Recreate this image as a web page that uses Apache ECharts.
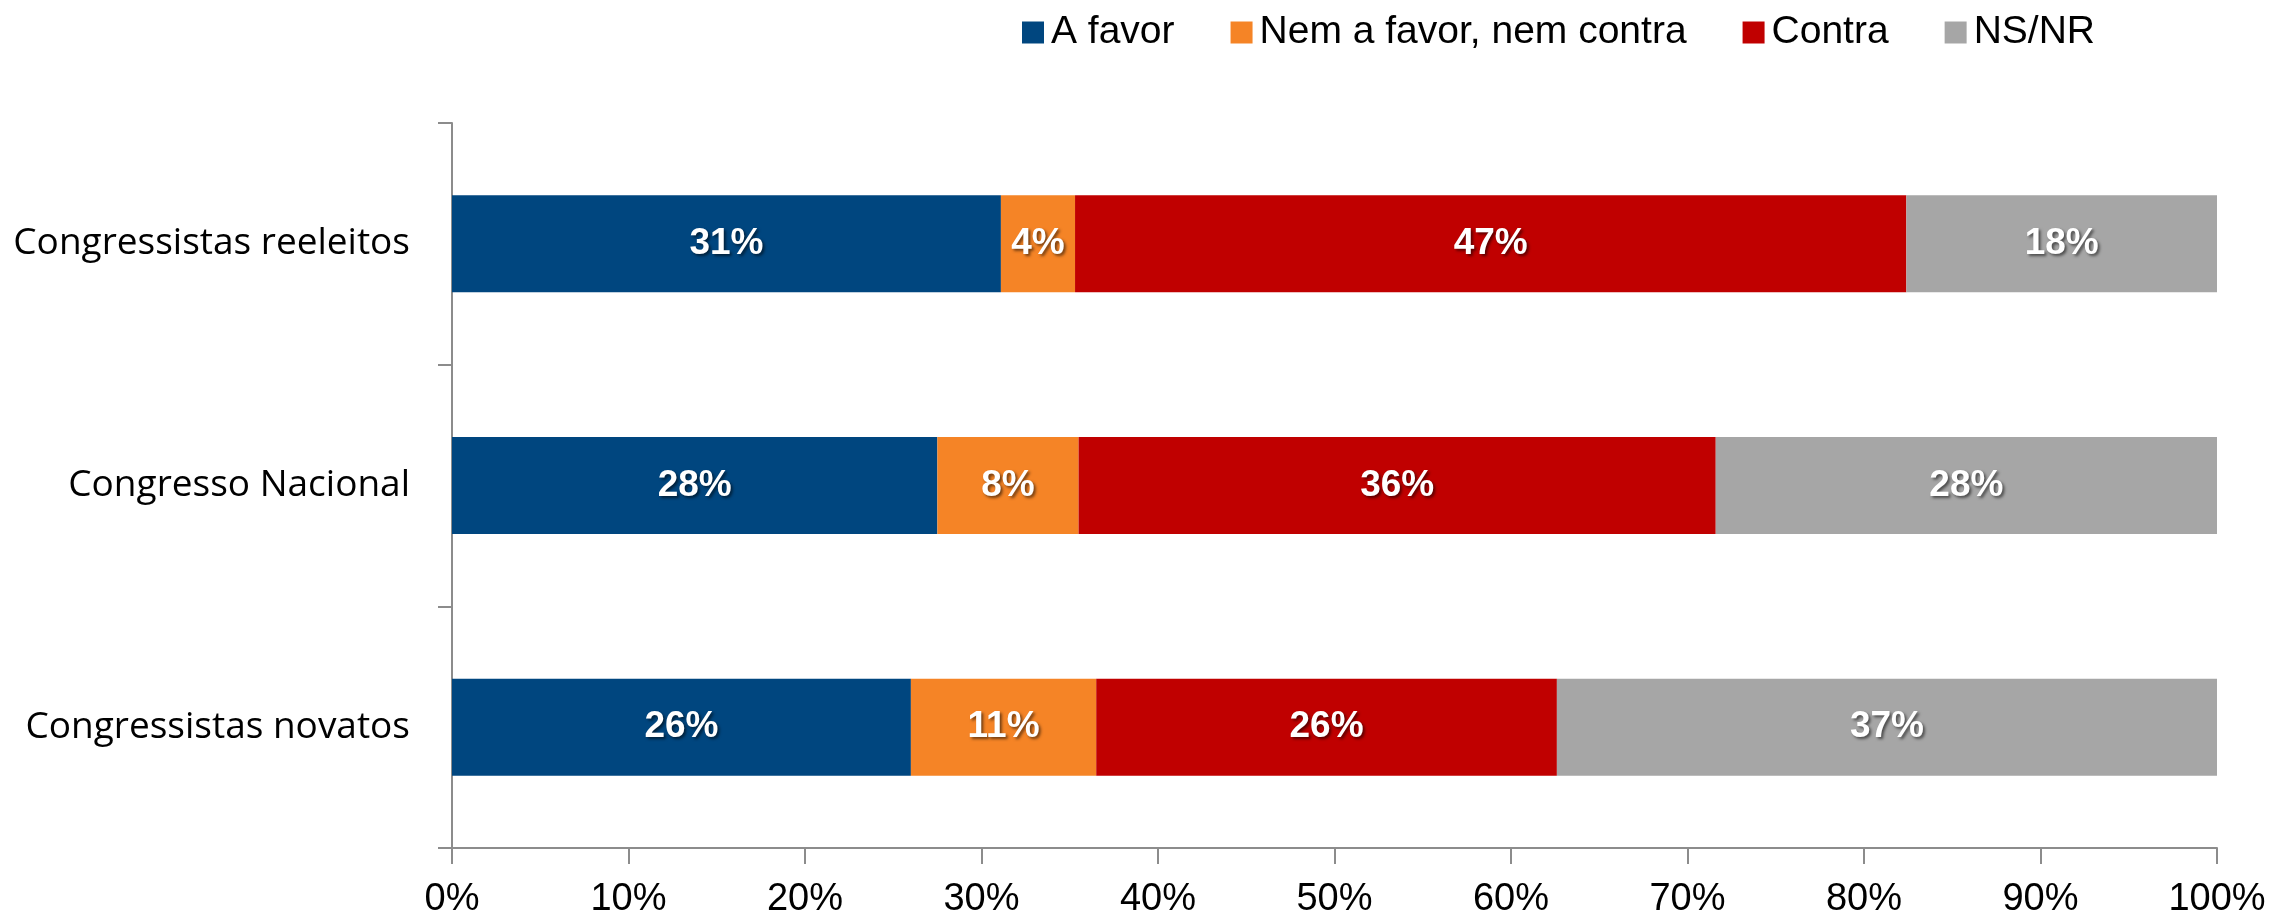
<!DOCTYPE html>
<html><head><meta charset="utf-8">
<script src="https://cdn.jsdelivr.net/npm/echarts@6/dist/echarts.min.js"></script>
<style>html,body{margin:0;padding:0;background:#fff}#c{width:2272px;height:921px}</style>
</head><body><div id="c"></div>
<script>
const categories = ['Congressistas reeleitos', 'Congresso Nacional', 'Congressistas novatos'];
const seriesNames = ['A favor', 'Nem a favor, nem contra', 'Contra', 'NS/NR'];
const aFavor = [31.1, 27.5, 26.0];
const nemNem = [4.2, 8.0, 10.5];
const contra = [47.1, 36.1, 26.1];
const nsnr = [17.6, 28.4, 37.4];
const labelText = [[31, 28, 26], [4, 8, 11], [47, 36, 26], [18, 28, 37]];
const xTicks = [0, 10, 20, 30, 40, 50, 60, 70, 80, 90, 100];
const colors = ['#00467F', '#F58426', '#C00000', '#A6A6A6'];

const sans = '"Liberation Sans", Arial, sans-serif';
const allData = [aFavor, nemNem, contra, nsnr];
const chart = echarts.init(document.getElementById('c'));
chart.setOption({
  animation: false,
  color: colors,
  legend: {
    top: 8, left: 1017, itemWidth: 22, itemHeight: 22, itemGap: 56,
    icon: 'rect',
    data: seriesNames,
    textStyle: { fontFamily: sans, fontSize: 39, color: '#000', padding: [0, 0, 0, 2] }
  },
  grid: { left: 452, right: 55, top: 123, bottom: 73 },
  xAxis: {
    type: 'value', min: 0, max: 100, interval: 10,
    axisLine: { show: true, lineStyle: { color: '#8C8C8C', width: 2 } },
    axisTick: { show: true, length: 16, lineStyle: { color: '#8C8C8C', width: 2 } },
    splitLine: { show: false },
    axisLabel: { formatter: v => xTicks.includes(v) ? v + '%' : '', fontFamily: sans, fontSize: 38, color: '#000', margin: 33 }
  },
  yAxis: {
    type: 'category', data: categories, inverse: true,
    axisLine: { show: true, lineStyle: { color: '#8C8C8C', width: 2 } },
    axisTick: { show: true, length: 14, lineStyle: { color: '#8C8C8C', width: 2 } },
    axisLabel: { fontFamily: '"Open Sans", sans-serif', fontSize: 37, color: '#000', margin: 42 }
  },
  series: allData.map((d, i) => ({
    name: seriesNames[i], type: 'bar', stack: 'total', barWidth: 97,
    data: d,
    itemStyle: { color: colors[i] },
    label: {
      show: true, position: 'inside',
      formatter: p => labelText[i][p.dataIndex] + '%',
      fontFamily: sans, fontWeight: 'bold', fontSize: 37, color: '#fff',
      textShadowColor: 'rgba(0,0,0,0.55)', textShadowBlur: 3, textShadowOffsetX: 2, textShadowOffsetY: 2
    }
  }))
});
</script></body></html>
